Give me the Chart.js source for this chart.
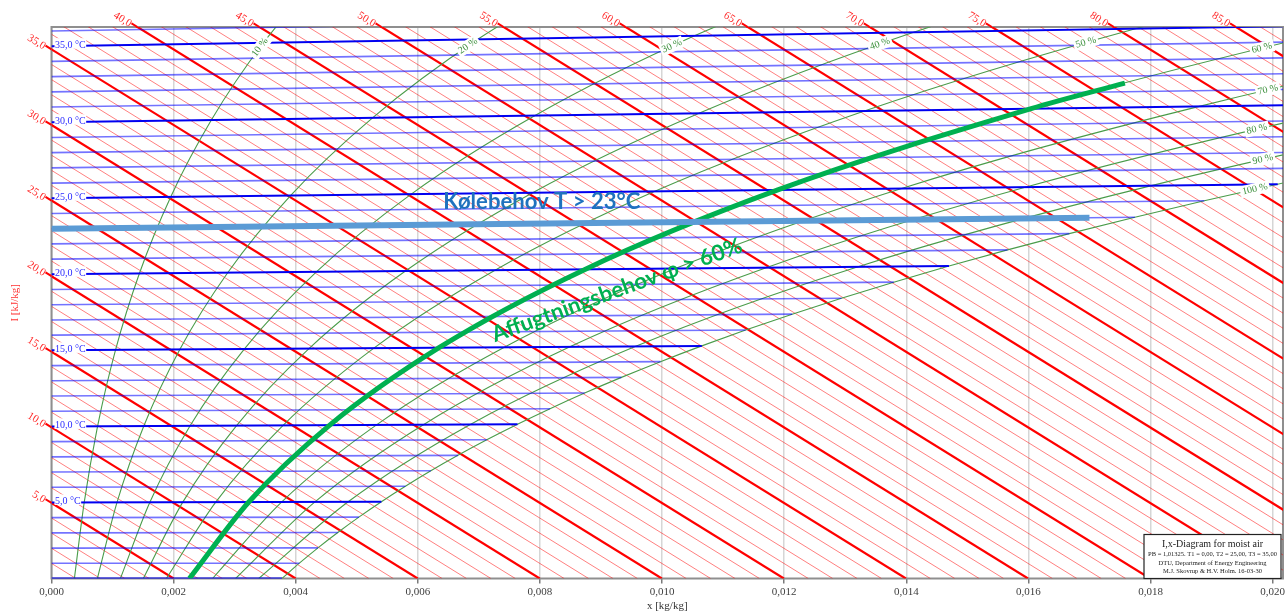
<!DOCTYPE html>
<html lang="da">
<head>
<meta charset="UTF-8">
<title>I,x-Diagram for moist air</title>
<style>
  html, body { margin: 0; padding: 0; background: #fff; }
  #wrap { width: 1288px; height: 615px; }
</style>
<script src="https://cdn.jsdelivr.net/npm/chart.js"></script>
</head>
<body>
<div id="wrap"><canvas id="ixChart" width="1288" height="615"></canvas></div>
<script>
// ---- data ----
const xTicks = [0, 0.002, 0.004, 0.006, 0.008, 0.010, 0.012, 0.014, 0.016, 0.018, 0.020];
const xMax = 0.02017;          // kg/kg at right frame
const yMax = 36.48;            // kJ/kg at top frame (x = 0)

// enthalpy lines every 1 kJ/kg, bold + labelled every 5
const enthalpyFirst = 1, enthalpyLast = 86, enthalpyMajor = 5;
// isotherms every 1 degC, bold + labelled every 5
const tempFirst = 0, tempLast = 36, tempMajor = 5;

// saturation line (100 %): x [kg/kg] at t = 0, 1, 2 ... 26 degC
const satX = [0.003775, 0.004060, 0.004364, 0.004689, 0.005034, 0.005403, 0.005796,
  0.006213, 0.006657, 0.007129, 0.007632, 0.008165, 0.008732, 0.009334, 0.009973,
  0.010651, 0.011369, 0.012131, 0.012938, 0.013794, 0.014699, 0.015658, 0.016670,
  0.017744, 0.018881, 0.020083, 0.021355];

// relative humidity curves 10..90 %: x [kg/kg] at rhTemps
const rhLevels = [10, 20, 30, 40, 50, 60, 70, 80, 90];
const rhTemps = [0, 5, 10, 15, 20, 25, 30, 35, 40];
const rhX = [
  [0.000375, 0.000536, 0.000755, 0.001049, 0.001439, 0.001952, 0.002618, 0.003471, 0.004567],
  [0.000751, 0.001073, 0.001512, 0.002101, 0.002885, 0.003915, 0.005258, 0.006982, 0.009201],
  [0.001128, 0.001611, 0.002270, 0.003157, 0.004338, 0.005892, 0.007920, 0.010531, 0.013904],
  [0.001504, 0.002150, 0.003031, 0.004217, 0.005797, 0.007881, 0.010606, 0.014121, 0.018678],
  [0.001882, 0.002690, 0.003793, 0.005280, 0.007264, 0.009882, 0.013314, 0.017753, 0.023524],
  [0.002259, 0.003231, 0.004557, 0.006347, 0.008737, 0.011896, 0.016045, 0.021425, 0.028444],
  [0.002638, 0.003772, 0.005323, 0.007417, 0.010217, 0.013923, 0.018800, 0.025141, 0.033440],
  [0.003016, 0.004315, 0.006091, 0.008491, 0.011704, 0.015963, 0.021579, 0.028899, 0.038513],
  [0.003395, 0.004859, 0.006860, 0.009569, 0.013198, 0.018016, 0.024382, 0.032702, 0.043664]
];
// x where each rh label sits (10 % ... 100 %)
const rhLabelX = [0.003415, 0.006821, 0.010162, 0.013568, 0.016942,
  0.019825, 0.019923, 0.019743, 0.019841, 0.019710];

// highlighted needs
const coolTemp = 23, coolEndX = 0.0170;
const coolText = 'Kølebehov T > 23°C';
const coolLabelAt = [0.00803, 24.92];
const dehumRh = 60, dehumEndX = 0.01758, dehumEndT = 31.55;
const dehumText = 'Affugtningsbehov φ > 60%';
const dehumLabelAt = [0.00926, 19.07];

const infoLines = ['I,x-Diagram for moist air',
  'PB = 1,01325. T1 = 0,00, T2 = 25,00, T3 = 35,00',
  'DTU, Department of Energy Engineering',
  'M.J. Skovrup & H.V. Holm. 16-03-30'];

// ---- i,x-diagram ordinate: i - r0*x (kJ/kg) ----
const R0 = 2501, CPA = 1.006, CPV = 1.86;
function ixPoint(x, t) { return { x: x, y: CPA * t + CPV * t * x }; }
const comma = (v, d) => v.toFixed(d).replace('.', ',');

const datasets = [];
const base = { showLine: true, pointRadius: 0, fill: false, capBezierPoints: false };
const rhColor = 'rgb(74,156,74)';

// enthalpy lines
for (let i = enthalpyFirst; i <= enthalpyLast; i++) {
  const major = i % enthalpyMajor === 0;
  datasets.push(Object.assign({}, base, {
    data: [{ x: 0, y: i }, { x: i / R0, y: 0 }],
    borderColor: major ? '#ff0000' : 'rgba(255,0,0,0.5)',
    borderWidth: major ? 2.2 : 1,
    order: 6
  }));
}

// relative humidity curves
const rhIndex = [];
rhLevels.forEach((rh, k) => {
  rhIndex.push(datasets.length);
  datasets.push(Object.assign({}, base, {
    data: rhTemps.map((t, j) => ixPoint(rhX[k][j], t)),
    borderColor: rhColor, borderWidth: 1.1,
    cubicInterpolationMode: 'monotone', order: 4
  }));
});
rhIndex.push(datasets.length);
datasets.push(Object.assign({}, base, {
  data: satX.map((x, t) => ixPoint(x, t)),
  borderColor: rhColor, borderWidth: 1.1,
  cubicInterpolationMode: 'monotone', order: 4
}));

// isotherms
for (let t = tempFirst; t <= tempLast; t++) {
  const major = t % tempMajor === 0;
  const xEnd = t < satX.length ? Math.min(satX[t], xMax) : xMax;
  datasets.push(Object.assign({}, base, {
    data: [ixPoint(0, t), ixPoint(xEnd, t)],
    borderColor: major ? '#0000f0' : 'rgba(0,0,255,0.55)',
    borderWidth: major ? 2 : 1.6,
    order: 3
  }));
}

// cooling need (T > 23 degC)
datasets.push(Object.assign({}, base, {
  data: [ixPoint(0, coolTemp), ixPoint(coolEndX, coolTemp)],
  borderColor: '#5b9bd5', borderWidth: 6, order: 1
}));
// dehumidification need (phi > 60 %)
const k60 = rhLevels.indexOf(dehumRh);
const dehumData = rhTemps.filter(t => t < dehumEndT).map((t, j) => ixPoint(rhX[k60][j], t));
dehumData.push(ixPoint(dehumEndX, dehumEndT));
datasets.push(Object.assign({}, base, {
  data: dehumData, borderColor: '#00b050', borderWidth: 5,
  cubicInterpolationMode: 'monotone', order: 1
}));

// ---- helpers for labels ----
function bez(p0, p1, p2, p3, s) {
  const u = 1 - s;
  return u * u * u * p0 + 3 * u * u * s * p1 + 3 * u * s * s * p2 + s * s * s * p3;
}
function dbez(p0, p1, p2, p3, s) {
  const u = 1 - s;
  return 3 * u * u * (p1 - p0) + 6 * u * s * (p2 - p1) + 3 * s * s * (p3 - p2);
}
function pointOnCurve(meta, px) {
  const pts = meta.data;
  for (let k = 0; k < pts.length - 1; k++) {
    const a = pts[k], b = pts[k + 1];
    if (px < a.x || px > b.x) continue;
    const c1x = a.cp2x ?? a.x, c1y = a.cp2y ?? a.y, c2x = b.cp1x ?? b.x, c2y = b.cp1y ?? b.y;
    let lo = 0, hi = 1;
    for (let n = 0; n < 40; n++) {
      const m = (lo + hi) / 2;
      if (bez(a.x, c1x, c2x, b.x, m) < px) lo = m; else hi = m;
    }
    const s = (lo + hi) / 2;
    return {
      x: px, y: bez(a.y, c1y, c2y, b.y, s),
      angle: Math.atan2(dbez(a.y, c1y, c2y, b.y, s), dbez(a.x, c1x, c2x, b.x, s))
    };
  }
  return null;
}
function fitFont(ctx, text, width, weight, family) {
  ctx.font = weight + ' 20px ' + family;
  const size = 20 * width / ctx.measureText(text).width;
  return weight + ' ' + size.toFixed(1) + 'px ' + family;
}

const ixDecor = {
  id: 'ixDecor',
  beforeDatasetsDraw(chart) {
    const { ctx, chartArea: a } = chart;
    ctx.save();
    ctx.strokeStyle = '#8f8f8f';
    ctx.lineWidth = 2;
    ctx.strokeRect(a.left, a.top, a.right - a.left, a.bottom - a.top);
    ctx.restore();
  },
  afterDatasetsDraw(chart) {
    const { ctx, chartArea: a, scales } = chart;
    const sx = scales.x, sy = scales.y;
    ctx.save();

    // enthalpy labels along the line direction, outside the frame
    const p0x = sx.getPixelForValue(0), p0y = sy.getPixelForValue(1);
    const p1x = sx.getPixelForValue(1 / R0), p1y = sy.getPixelForValue(0);
    const len = Math.hypot(p1x - p0x, p1y - p0y);
    const dx = (p1x - p0x) / len, dy = (p1y - p0y) / len;
    const ang = Math.atan2(dy, dx);
    ctx.font = '11px "Liberation Serif"';
    ctx.fillStyle = 'rgba(255,0,0,0.85)';
    ctx.strokeStyle = '#ff0000';
    ctx.lineWidth = 2;
    ctx.textAlign = 'right';
    ctx.textBaseline = 'middle';
    for (let i = enthalpyMajor; i <= enthalpyLast; i += enthalpyMajor) {
      let px, py;
      if (i <= yMax) { px = sx.getPixelForValue(0); py = sy.getPixelForValue(i); }
      else {
        const xi = (i - yMax) / R0;
        if (xi > xMax) continue;
        px = sx.getPixelForValue(xi); py = a.top;
      }
      ctx.beginPath();
      ctx.moveTo(px, py);
      ctx.lineTo(px - 7 * dx, py - 7 * dy);
      ctx.stroke();
      ctx.save();
      ctx.translate(px - 8 * dx, py - 8 * dy + 2);
      ctx.rotate(ang);
      ctx.fillText(comma(i, 1), 0, 0);
      ctx.restore();
    }

    // isotherm labels at the left
    ctx.font = '10px "Liberation Serif"';
    ctx.textAlign = 'left';
    ctx.textBaseline = 'alphabetic';
    for (let t = tempMajor; t <= tempLast; t += tempMajor) {
      const ly = sy.getPixelForValue(ixPoint(0, t).y);
      const txt = comma(t, 1) + ' °C';
      const w = ctx.measureText(txt).width;
      ctx.fillStyle = '#fff';
      ctx.fillRect(a.left + 3, ly - 8, w + 1, 10.5);
      ctx.fillStyle = '#2b2bff';
      ctx.fillText(txt, a.left + 3.5, ly + 1.5);
    }

    // relative humidity labels
    ctx.font = '10px "Liberation Serif"';
    ctx.textAlign = 'center';
    ctx.textBaseline = 'middle';
    rhIndex.forEach((di, k) => {
      const p = pointOnCurve(chart.getDatasetMeta(di), sx.getPixelForValue(rhLabelX[k]));
      if (!p) return;
      const txt = (k + 1) * 10 + ' %';
      const w = ctx.measureText(txt).width;
      ctx.save();
      ctx.translate(p.x, p.y);
      ctx.rotate(p.angle);
      ctx.fillStyle = '#fff';
      ctx.fillRect(-w / 2 - 2, -6, w + 4, 12);
      ctx.fillStyle = '#3a8f3a';
      ctx.fillText(txt, 0, 0);
      ctx.restore();
    });

    // annotations
    ctx.textAlign = 'center';
    ctx.textBaseline = 'middle';
    ctx.font = fitFont(ctx, coolText, 197, 'bold', 'Lato');
    ctx.fillStyle = '#1f72be';
    ctx.fillText(coolText, sx.getPixelForValue(coolLabelAt[0]), sy.getPixelForValue(coolLabelAt[1]));
    ctx.save();
    ctx.translate(sx.getPixelForValue(dehumLabelAt[0]), sy.getPixelForValue(dehumLabelAt[1]));
    ctx.rotate(-20 * Math.PI / 180);
    ctx.font = fitFont(ctx, dehumText, 265, 'bold', 'Lato');
    ctx.fillStyle = '#00b050';
    ctx.fillText(dehumText, 0, 0);
    ctx.restore();

    // info box
    const bw = 137, bh = 44;
    const bx = a.right - 2 - bw, by = a.bottom - bh;
    ctx.fillStyle = '#fff';
    ctx.fillRect(bx, by, bw, bh);
    ctx.strokeStyle = '#222';
    ctx.lineWidth = 1.2;
    ctx.strokeRect(bx, by, bw, bh);
    ctx.fillStyle = '#222';
    ctx.font = '10px "Liberation Serif"';
    ctx.fillText(infoLines[0], bx + bw / 2, by + 10);
    ctx.font = '6.5px "Liberation Serif"';
    ctx.fillText(infoLines[1], bx + bw / 2, by + 20);
    ctx.fillText(infoLines[2], bx + bw / 2, by + 28.5);
    ctx.fillText(infoLines[3], bx + bw / 2, by + 36.5);

    ctx.restore();
  }
};

new Chart(document.getElementById('ixChart'), {
  type: 'scatter',
  data: { datasets: datasets },
  options: {
    responsive: false,
    animation: false,
    events: [],
    layout: { padding: { top: 27, right: 5, left: 0, bottom: 0 } },
    plugins: { legend: { display: false }, tooltip: { enabled: false } },
    scales: {
      x: {
        type: 'linear', min: 0, max: xMax,
        afterBuildTicks: s => { s.ticks = xTicks.map(v => ({ value: v })); },
        afterFit: s => { s.height = 36.5; },
        ticks: {
          callback: v => comma(v, 3), maxRotation: 0, padding: 2,
          color: '#404040', font: { family: 'Liberation Serif', size: 11 }
        },
        grid: { color: '#d6d6d6', lineWidth: 1.5, tickLength: 5, tickColor: '#7a7a7a' },
        border: { display: false },
        title: {
          display: true, text: 'x [kg/kg]', color: '#333',
          font: { family: 'Liberation Serif', size: 11 }, padding: { top: 0, bottom: 2 }
        }
      },
      y: {
        type: 'linear', min: 0, max: yMax,
        afterFit: s => { s.width = 51.5; },
        ticks: { display: false },
        grid: { display: false },
        border: { display: false },
        title: {
          display: true, text: 'I [kJ/kg]', color: '#ff3030',
          font: { family: 'Liberation Serif', size: 11 }, padding: { top: 9, bottom: 0 }
        }
      }
    }
  },
  plugins: [ixDecor]
});
</script>
</body>
</html>
